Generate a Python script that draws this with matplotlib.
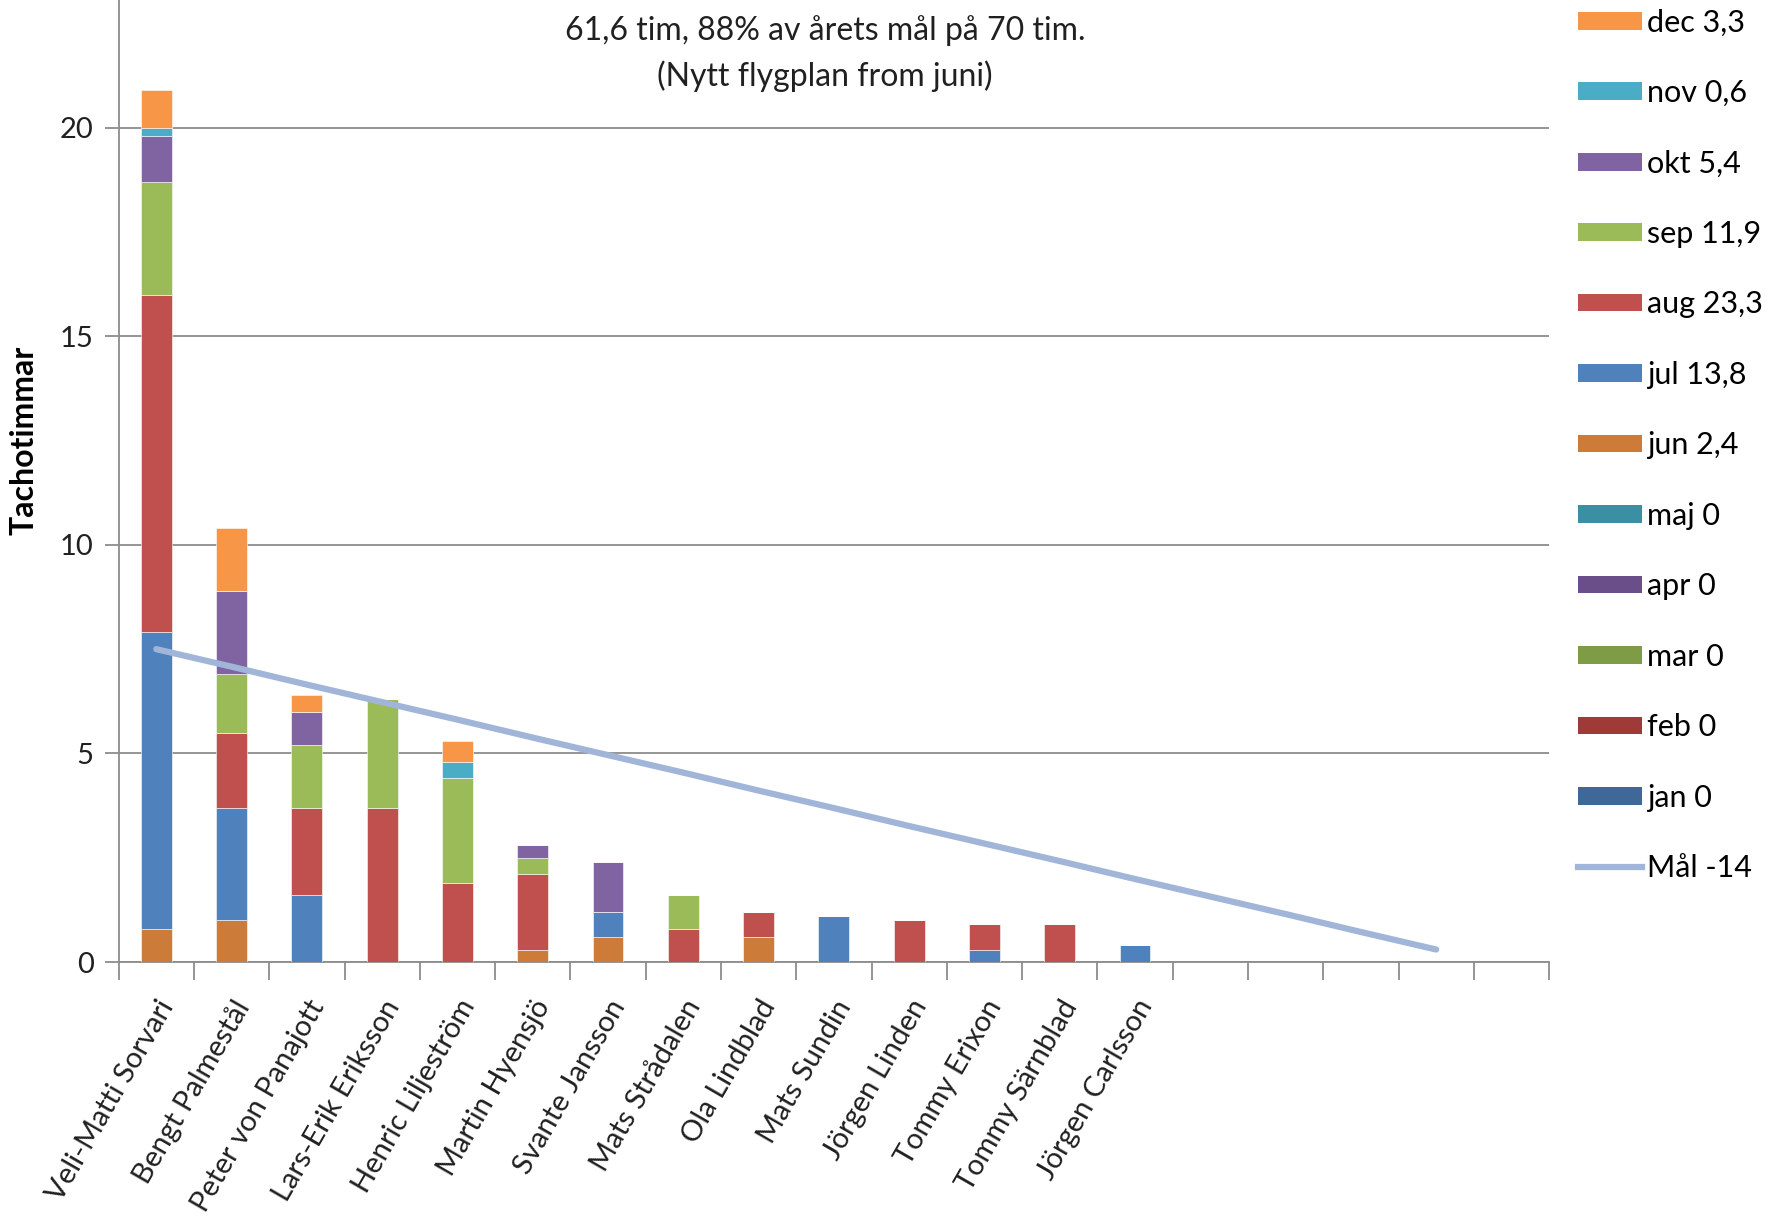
import numpy as np
import matplotlib.pyplot as plt
from matplotlib.patches import Patch
from matplotlib.lines import Line2D

plt.rcParams['font.family'] = ['Lato', 'DejaVu Sans']

# pilots (19 category slots, the last five are empty)
pilots = ["Veli-Matti Sorvari", "Bengt Palmestål", "Peter von Panajott", "Lars-Erik Eriksson",
          "Henric Liljeström", "Martin Hyensjö", "Svante Jansson", "Mats Strådalen",
          "Ola Lindblad", "Mats Sundin", "Jörgen Linden", "Tommy Erixon",
          "Tommy Särnblad", "Jörgen Carlsson", "", "", "", "", ""]

# hours per month and pilot
jan = [0, 0, 0, 0, 0, 0, 0, 0, 0, 0, 0, 0, 0, 0, 0, 0, 0, 0, 0]
feb = [0, 0, 0, 0, 0, 0, 0, 0, 0, 0, 0, 0, 0, 0, 0, 0, 0, 0, 0]
mar = [0, 0, 0, 0, 0, 0, 0, 0, 0, 0, 0, 0, 0, 0, 0, 0, 0, 0, 0]
apr = [0, 0, 0, 0, 0, 0, 0, 0, 0, 0, 0, 0, 0, 0, 0, 0, 0, 0, 0]
maj = [0, 0, 0, 0, 0, 0, 0, 0, 0, 0, 0, 0, 0, 0, 0, 0, 0, 0, 0]
jun = [0.8, 1.0, 0, 0, 0, 0.3, 0.6, 0, 0.6, 0, 0, 0, 0, 0, 0, 0, 0, 0, 0]
jul = [7.1, 2.7, 1.6, 0, 0, 0, 0.6, 0, 0, 1.1, 0, 0.3, 0, 0.4, 0, 0, 0, 0, 0]
aug = [8.1, 1.8, 2.1, 3.7, 1.9, 1.8, 0, 0.8, 0.6, 0, 1.0, 0.6, 0.9, 0, 0, 0, 0, 0, 0]
sep = [2.7, 1.4, 1.5, 2.6, 2.5, 0.4, 0, 0.8, 0, 0, 0, 0, 0, 0, 0, 0, 0, 0, 0]
okt = [1.1, 2.0, 0.8, 0, 0, 0.3, 1.2, 0, 0, 0, 0, 0, 0, 0, 0, 0, 0, 0, 0]
nov = [0.2, 0, 0, 0, 0.4, 0, 0, 0, 0, 0, 0, 0, 0, 0, 0, 0, 0, 0, 0]
dec = [0.9, 1.5, 0.4, 0, 0.5, 0, 0, 0, 0, 0, 0, 0, 0, 0, 0, 0, 0, 0, 0]

month_labels = ["jan 0", "feb 0", "mar 0", "apr 0", "maj 0", "jun 2,4", "jul 13,8",
                "aug 23,3", "sep 11,9", "okt 5,4", "nov 0,6", "dec 3,3"]
series = [jan, feb, mar, apr, maj, jun, jul, aug, sep, okt, nov, dec]

# goal line (Mål -14)
goal = [7.50, 7.08, 6.65, 6.23, 5.81, 5.38, 4.96, 4.54, 4.11,
        3.69, 3.26, 2.84, 2.42, 1.99, 1.57, 1.15, 0.72, 0.30]
goal_label = "Mål -14"

colors = ["#3F6797", "#9E3B39", "#7E9B46", "#6A4E8A", "#3A8FA3", "#CC7B38",
          "#4F81BD", "#C0504D", "#9BBB59", "#8064A2", "#4BACC6", "#F79646"]
goal_color = "#A0B5D8"

fig = plt.figure(figsize=(17.71, 12.17), dpi=100)
ax = fig.add_axes([0.067, 0.2095, 0.8077, 0.7905])

x = np.arange(len(pilots))
bottom = np.zeros(len(pilots))
for vals, col in zip(series, colors):
    vals = np.array(vals, dtype=float)
    ax.bar(x, vals, width=0.41, bottom=bottom, color=col, edgecolor='white',
           linewidth=0.4, zorder=3)
    bottom += vals

ax.plot(np.arange(len(goal)), goal, color=goal_color, lw=4.5, solid_capstyle='round', zorder=4)

ax.set_xlim(-0.5, len(pilots) - 0.5)
ax.set_ylim(0, 23.06)
ax.set_yticks([0, 5, 10, 15, 20])
ax.grid(axis='y', color='#8C8C8C', lw=1.3, zorder=0)
ax.tick_params(axis='y', labelsize=21, length=10, width=1.3, color='#8C8C8C', pad=8,
               labelcolor='#202020')

ax.set_xticks(x)
ax.set_xticklabels(pilots, rotation=60, ha='right', va='top', rotation_mode='anchor',
                   fontsize=21, color='#202020')
ax.set_xticks(np.arange(-0.5, len(pilots)), minor=True)
ax.tick_params(axis='x', which='major', length=0, pad=24)
ax.tick_params(axis='x', which='minor', length=13, width=1.3, color='#8C8C8C')

for s in ['top', 'right']:
    ax.spines[s].set_visible(False)
for s in ['left', 'bottom']:
    ax.spines[s].set_color('#8C8C8C')
    ax.spines[s].set_linewidth(1.3)

ax.set_ylabel("Tachotimmar", fontsize=23, fontweight='bold')
ax.yaxis.set_label_coords(-0.056, 0.542)

ax.text(0.494, 0.968, "61,6 tim, 88% av årets mål på 70 tim.", transform=ax.transAxes,
        ha='center', va='center', fontsize=23, color='#202020')
ax.text(0.494, 0.921, "(Nytt flygplan from juni)", transform=ax.transAxes,
        ha='center', va='center', fontsize=23, color='#202020')

handles = [Patch(facecolor=c, edgecolor='none') for c in colors[::-1]]
labels = month_labels[::-1]
handles.append(Line2D([0], [0], color=goal_color, lw=4.5))
labels.append(goal_label)
fig.legend(handles, labels, loc='upper left', bbox_to_anchor=(0.891, 0.993), frameon=False,
           fontsize=22, handlelength=2.1, handleheight=0.52, handletextpad=0.15,
           labelspacing=1.39, borderpad=0, borderaxespad=0)

fig.savefig("out.png", dpi=100)
